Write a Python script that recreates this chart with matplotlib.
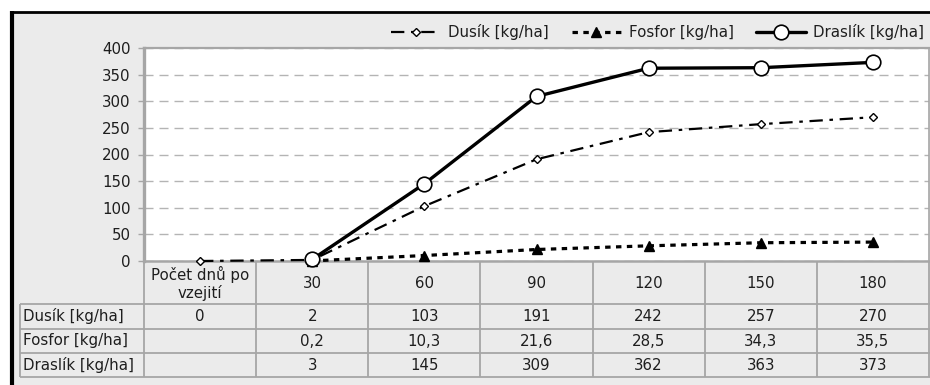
import numpy as np
import matplotlib
matplotlib.use("Agg")
import matplotlib.pyplot as plt
from matplotlib.lines import Line2D
from matplotlib.patches import Rectangle
from matplotlib.transforms import blended_transform_factory

plt.rcParams['font.family'] = ['DejaVu Sans']

# --- data ---------------------------------------------------------------
categories = ["Počet dnů po\nvzejití", "30", "60", "90", "120", "150", "180"]
dusik = [0, 2, 103, 191, 242, 257, 270]
fosfor = [np.nan, 0.2, 10.3, 21.6, 28.5, 34.3, 35.5]
draslik = [np.nan, 3, 145, 309, 362, 363, 373]
series_names = ["Dusík [kg/ha]", "Fosfor [kg/ha]", "Draslík [kg/ha]"]
y_ticks = [0, 50, 100, 150, 200, 250, 300, 350, 400]

W, H = 930, 385
TXT = "#1e1e1e"
GRID = "#b4b4b4"
FRAME = "#a6a6a6"
BG = "#ebebeb"
FS = 10.8


def fx(px):
    return px / W


def fy(py):
    return 1 - py / H


fig = plt.figure(figsize=(W / 100, H / 100), dpi=100, facecolor="white")

# grey chart background with a black frame on top and left
fig.add_artist(Rectangle((fx(12), 0), 1 - fx(12), fy(12), transform=fig.transFigure,
                         facecolor=BG, edgecolor="none", zorder=0))
fig.add_artist(Line2D([fx(12), fx(12)], [0, fy(11)], transform=fig.transFigure,
                      color="black", lw=3.0, zorder=1, solid_capstyle="butt"))
fig.add_artist(Line2D([fx(10), 1], [fy(12), fy(12)], transform=fig.transFigure,
                      color="black", lw=2.0, zorder=1, solid_capstyle="butt"))

plot_left, plot_right, plot_top, plot_bottom = 144, 929, 48, 261
ax = fig.add_axes([fx(plot_left), fy(plot_bottom), fx(plot_right) - fx(plot_left),
                   fy(plot_top) - fy(plot_bottom)])
ax.set_facecolor("white")
x = np.arange(len(categories))
ax.set_xlim(-0.5, len(categories) - 0.5)
ax.set_ylim(0, 400)

for side, lw in (("left", 2.4), ("top", 1.6), ("right", 1.2), ("bottom", 1.8)):
    ax.spines[side].set_color(FRAME)
    ax.spines[side].set_linewidth(lw)

ax.set_yticks(y_ticks)
ax.set_xticks([])
ax.tick_params(axis="y", length=4.5, width=1.0, color=FRAME, pad=5,
               labelsize=FS, labelcolor=TXT)
ax.yaxis.grid(True, color=GRID, lw=1.0, dashes=(6.5, 4.3))
ax.set_axisbelow(True)

l_dus, = ax.plot(x, dusik, color="black", lw=1.6, dashes=(6, 3, 1.6, 3),
                 marker="D", markersize=4.5, markerfacecolor="white",
                 markeredgecolor="black", markeredgewidth=1.0, zorder=3,
                 label=series_names[0])
l_fos, = ax.plot(x, fosfor, color="black", lw=2.3, dashes=(1.7, 1.7),
                 marker="^", markersize=7.5, markerfacecolor="black",
                 markeredgecolor="black", zorder=3, label=series_names[1])
l_dra, = ax.plot(x, draslik, color="black", lw=2.4, solid_capstyle="round",
                 marker="o", markersize=10.5, markerfacecolor="white",
                 markeredgecolor="black", markeredgewidth=1.2, zorder=4,
                 label=series_names[2])
for ln in (l_dus, l_fos, l_dra):
    ln.set_clip_on(False)

fig.legend(handles=[l_dus, l_fos, l_dra], labels=series_names,
           loc="center right", bbox_to_anchor=(fx(930), fy(32)), ncol=3,
           frameon=False, fontsize=FS, handlelength=3.3, handletextpad=0.5,
           columnspacing=1.5, borderaxespad=0, labelcolor=TXT)

# --- data table below the plot --------------------------------------------
tbl = blended_transform_factory(ax.transData, fig.transFigure)
row_y = [261, 304, 329, 353, 377]          # horizontal row boundaries (px)
label_left = 20
line_kw = dict(color=FRAME, lw=1.3, zorder=2, solid_capstyle="butt")

for b in np.arange(len(categories) + 1) - 0.5:
    ax.add_line(Line2D([b, b], [fy(row_y[0]), fy(row_y[-1])], transform=tbl,
                       clip_on=False, **line_kw))
for ry in row_y[1:]:
    fig.add_artist(Line2D([fx(label_left), 1], [fy(ry), fy(ry)],
                          transform=fig.transFigure, **line_kw))
fig.add_artist(Line2D([fx(label_left), fx(label_left)], [fy(row_y[1]), fy(row_y[-1])],
                      transform=fig.transFigure, **line_kw))

# header row with category labels
for xi, cat in zip(x, categories):
    ax.text(xi, fy((row_y[0] + row_y[1]) / 2 + 1), cat, transform=tbl,
            ha="center", va="center", fontsize=FS, color=TXT,
            linespacing=1.15, clip_on=False)


def fmt(v, decimals):
    if np.isnan(v):
        return ""
    s = f"{v:.{decimals}f}"
    return s.replace(".", ",")


rows = [(series_names[0], dusik, 0), (series_names[1], fosfor, 1),
        (series_names[2], draslik, 0)]
for r, (name, vals, dec) in enumerate(rows):
    yc = fy((row_y[r + 1] + row_y[r + 2]) / 2)
    fig.text(fx(label_left + 3), yc, name, ha="left", va="center",
             fontsize=FS, color=TXT)
    for xi, v in zip(x, vals):
        ax.text(xi, yc, fmt(float(v), dec), transform=tbl, ha="center",
                va="center", fontsize=FS, color=TXT, clip_on=False)

fig.savefig("out.png", dpi=100, facecolor="white")
